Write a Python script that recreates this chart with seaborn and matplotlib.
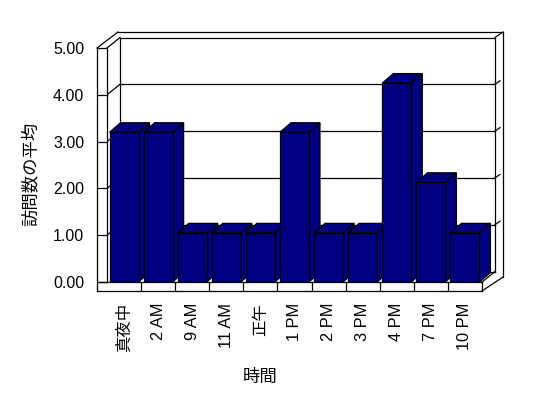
import matplotlib
matplotlib.use('Agg')
import matplotlib.pyplot as plt
import seaborn as sns
import pandas as pd
from matplotlib.patches import Polygon

categories = ['真夜中', '2 AM', '9 AM', '11 AM', '正午', '1 PM', '2 PM', '3 PM', '4 PM', '7 PM', '10 PM']
values = [3.2, 3.2, 1.05, 1.05, 1.05, 3.2, 1.05, 1.05, 4.25, 2.13, 1.05]
yticks = [0, 1, 2, 3, 4, 5]
ytick_labels = ['0.00', '1.00', '2.00', '3.00', '4.00', '5.00']
xlabel = '時間'
ylabel = '訪問数の平均'

sns.set_theme(style='white')
plt.rcParams['font.family'] = ['Liberation Sans', 'Noto Sans CJK JP']

W, H = 548, 398
fig = plt.figure(figsize=(W / 100, H / 100), dpi=100)
ax = fig.add_axes([107 / W, (H - 282) / H, (482 - 107) / W, (282 - 48) / H])

df = pd.DataFrame({xlabel: categories, ylabel: values})
sns.barplot(data=df, x=xlabel, y=ylabel, color='#000080', saturation=1,
            width=0.85, edgecolor='black', linewidth=0.9, ax=ax)
ax.set_xlim(-0.5, len(categories) - 0.5)
ax.set_ylim(0, 5)
for s in ax.spines.values():
    s.set_visible(False)
ax.set_facecolor('none')
ax.grid(False)
ax.set_xlabel('')
ax.set_ylabel('')
ax.set_yticks(yticks)
ax.set_yticklabels(ytick_labels, fontsize=11.5, color='black')
ax.tick_params(axis='y', length=0, pad=16.5)
ax.set_xticks(range(len(categories)))
ax.set_xticklabels(categories, rotation=90, fontsize=11.8, color='black')
ax.tick_params(axis='x', length=0, pad=15)

fig.canvas.draw()
xmin, xmax = ax.get_xlim()


def P(x, y, dx=0, dy=0):
    d = ax.transData.transform((x, y))
    return ((d[0] + dx) / W, (d[1] + dy) / H)


def line(p0, p1, z=1, lw=0.9):
    ax.plot([p0[0], p1[0]], [p0[1], p1[1]], color='black', lw=lw,
            transform=fig.transFigure, clip_on=False, zorder=z,
            solid_capstyle='projecting')


BX, BY = 13, 10.5   # back wall depth offset (px)
OX, OY = 21, 16     # outer wall offset
DX, DY = 11, 9.5    # bar depth
SW = 10             # left wall thickness
FH = 9              # floor thickness

# back wall
line(P(xmin, 0, BX, BY), P(xmin, 5, BX, BY))
line(P(xmin, 5, BX, BY), P(xmax, 5, BX, BY))
line(P(xmax, 5, BX, BY), P(xmax, 0, BX, BY))
line(P(xmin, 0, BX, BY), P(xmax, 0, BX, BY))
for t in yticks[1:-1]:
    line(P(xmin, t, BX, BY), P(xmax, t, BX, BY))
    line(P(xmin, t), P(xmin, t, BX, BY))
    line(P(xmax, t, BX, BY), P(xmax, t, BX + 5, BY + 3.5))
line(P(xmin, 5), P(xmin, 5, BX, BY))
# outer back
line(P(xmin, 5, -SW + OX, OY), P(xmax, 5, OX, OY))
line(P(xmax, 5, OX, OY), P(xmax, 0, OX, 5))
line(P(xmax, 5, BX, BY), P(xmax, 5, OX, OY))
line(P(xmin, 5, -SW, 0), P(xmin, 5, -SW + OX, OY))

# bars' side and top faces
for i, p in enumerate(ax.patches):
    x0, w, h = p.get_x(), p.get_width(), p.get_height()
    p.set_zorder(3 + 2 * i + 1)
    side = Polygon([P(x0 + w, 0), P(x0 + w, h), P(x0 + w, h, DX, DY), P(x0 + w, 0, DX, DY)],
                   closed=True, facecolor='#000080', edgecolor='black', lw=0.9,
                   transform=fig.transFigure, clip_on=False, zorder=3 + 2 * i)
    top = Polygon([P(x0, h), P(x0 + w, h), P(x0 + w, h, DX, DY), P(x0, h, DX, DY)],
                  closed=True, facecolor='#000080', edgecolor='black', lw=0.9,
                  transform=fig.transFigure, clip_on=False, zorder=3 + 2 * i)
    ax.add_patch(side)
    ax.add_patch(top)

# left wall front strip
ZF = 50
strip = Polygon([P(xmin, 5, -SW, 0), P(xmin, 5), P(xmin, 0, 0, -FH), P(xmin, 0, -SW, -FH)],
                closed=True, facecolor='white', edgecolor='none',
                transform=fig.transFigure, clip_on=False, zorder=ZF - 1)
ax.add_patch(strip)
line(P(xmin, 5, -SW, 0), P(xmin, 0, -SW, -FH), ZF)
line(P(xmin, 5), P(xmin, 0), ZF)
line(P(xmin, 5, -SW, 0), P(xmin, 5), ZF)
for t in yticks[:-1]:
    line(P(xmin, t, -SW, 0), P(xmin, t), ZF)

# floor front strip
floor = Polygon([P(xmin, 0, -SW, 0), P(xmax, 0), P(xmax, 0, 0, -FH), P(xmin, 0, -SW, -FH)],
                closed=True, facecolor='white', edgecolor='none',
                transform=fig.transFigure, clip_on=False, zorder=ZF - 1)
ax.add_patch(floor)
line(P(xmin, 0, -SW, 0), P(xmax, 0), ZF)
line(P(xmin, 0, -SW, -FH), P(xmax, 0, 0, -FH), ZF)
line(P(xmax, 0), P(xmax, 0, 0, -FH), ZF)
for k in range(len(categories) - 1):
    line(P(k + 0.5, 0), P(k + 0.5, 0, 0, -FH), ZF)
line(P(xmax, 0), P(xmax, 0, BX, BY), ZF)
line(P(xmax, 0, 0, -FH), P(xmax, 0, OX, 5), ZF)

fig.text(260 / W, 1 - 377 / H, xlabel, ha='center', va='center', fontsize=12.5,
         family=['Noto Sans CJK JP'], color='black')
fig.text(31 / W, 1 - 174 / H, ylabel, ha='center', va='center', rotation=90,
         fontsize=12.5, family=['Noto Sans CJK JP'], color='black')

fig.savefig('out.png', dpi=100, facecolor='white')
